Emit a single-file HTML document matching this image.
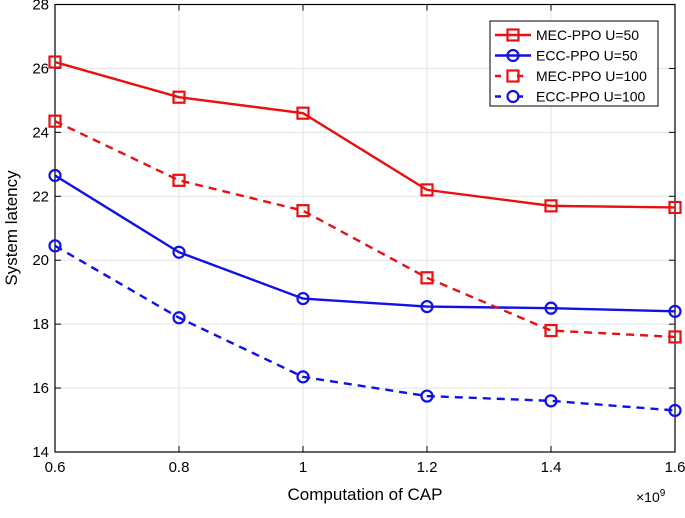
<!DOCTYPE html>
<html><head><meta charset="utf-8"><style>
body{margin:0;background:#fff;font-family:"Liberation Sans",Arial,sans-serif}
svg text{font-family:"Liberation Sans",Arial,sans-serif}
</style></head><body>
<svg id="chart" width="685" height="513" viewBox="0 0 685 513" xmlns="http://www.w3.org/2000/svg">
<g id="grid"></g>
<g id="axes"></g>
<g id="series"></g>
<text x="365" y="500" font-size="17" text-anchor="middle">Computation of CAP</text>
<text x="0" y="0" font-size="17" text-anchor="middle" transform="translate(17,228) rotate(-90)">System latency</text>
<text x="636" y="502" font-size="14">×10<tspan dy="-6" font-size="10">9</tspan></text>
<g id="legend"></g>
</svg>
<script>
const xCats=[0.6,0.8,1.0,1.2,1.4,1.6];
const xTicks=["0.6","0.8","1","1.2","1.4","1.6"];
const yTicks=[14,16,18,20,22,24,26,28];
const mecU50=[26.2,25.1,24.6,22.2,21.7,21.65];
const eccU50=[22.65,20.25,18.8,18.55,18.5,18.4];
const mecU100=[24.35,22.5,21.55,19.45,17.8,17.6];
const eccU100=[20.45,18.2,16.35,15.75,15.6,15.3];
const seriesNames=["MEC-PPO U=50","ECC-PPO U=50","MEC-PPO U=100","ECC-PPO U=100"];

const L=55,R=675,T=4.5,B=452;
const xs=v=>L+(v-0.6)/1.0*(R-L);
const ys=v=>B-(v-14)/14*(B-T);
const NS="http://www.w3.org/2000/svg";
function mk(tag,attrs,parent){const e=document.createElementNS(NS,tag);for(const k in attrs)e.setAttribute(k,attrs[k]);parent.appendChild(e);return e;}
const grid=document.getElementById('grid'),axes=document.getElementById('axes'),ser=document.getElementById('series'),leg=document.getElementById('legend');
xCats.forEach((c,i)=>{
 const g=mk('line',{x1:xs(c),x2:xs(c),y1:T,y2:B,stroke:'#e3e3e3','stroke-width':1},grid);
 
 const t=mk('text',{x:xs(c),y:B+20,'font-size':15,'text-anchor':'middle'},axes);t.textContent=xTicks[i];
 
 mk('line',{x1:xs(c),x2:xs(c),y1:B,y2:B-6,stroke:'#000'},axes);
 mk('line',{x1:xs(c),x2:xs(c),y1:T,y2:T+6,stroke:'#000'},axes);
});
yTicks.forEach(v=>{
 const g=mk('line',{x1:L,x2:R,y1:ys(v),y2:ys(v),stroke:'#e3e3e3','stroke-width':1},grid);
 
 const t=mk('text',{x:L-6,y:ys(v)+5,'font-size':15,'text-anchor':'end'},axes);t.textContent=v;
 
 mk('line',{x1:L,x2:L+6,y1:ys(v),y2:ys(v),stroke:'#000'},axes);
 mk('line',{x1:R,x2:R-6,y1:ys(v),y2:ys(v),stroke:'#000'},axes);
});
const frame=mk('rect',{x:L,y:T,width:R-L,height:B-T,fill:'none',stroke:'#000','stroke-width':1.2},axes);

const defs=[[mecU50,'#e81010','','sq','mec-ppo-u50'],[eccU50,'#1010e8','','ci','ecc-ppo-u50'],[mecU100,'#e81010','8,6','sq','mec-ppo-u100'],[eccU100,'#1010e8','8,6','ci','ecc-ppo-u100']];
function marker(type,x,y,col,p){let m;
 if(type==='sq')m=mk('rect',{x:x-5.5,y:y-5.5,width:11,height:11,fill:'none',stroke:col,'stroke-width':2.2},p);
 else m=mk('circle',{cx:x,cy:y,r:5.5,fill:'none',stroke:col,'stroke-width':2.2},p);
 return m;}
defs.forEach(([d,col,dash,mt,name])=>{
 const g=mk('g',{},ser);
 const pl=mk('polyline',{points:d.map((v,i)=>xs(xCats[i])+','+ys(v)).join(' '),fill:'none',stroke:col,'stroke-width':2.4,'stroke-dasharray':dash},g);
 
 d.forEach((v,i)=>{const m=marker(mt,xs(xCats[i]),ys(v),col,g);});
});
const lb=mk('rect',{x:490,y:21,width:168,height:85,fill:'#fff',stroke:'#000','stroke-width':1},leg);

defs.forEach(([d,col,dash,mt,name],i)=>{
 const y=35+i*20.5;
 const g=mk('g',{},leg);
 mk('line',{x1:495,x2:531,y1:y,y2:y,stroke:col,'stroke-width':2.4,'stroke-dasharray':dash?'6,16':''},g);
 marker(mt,513,y,col,g);
 const t=mk('text',{x:536,y:y+5,'font-size':14},g);t.textContent=seriesNames[i];
});
</script>
</body></html>
